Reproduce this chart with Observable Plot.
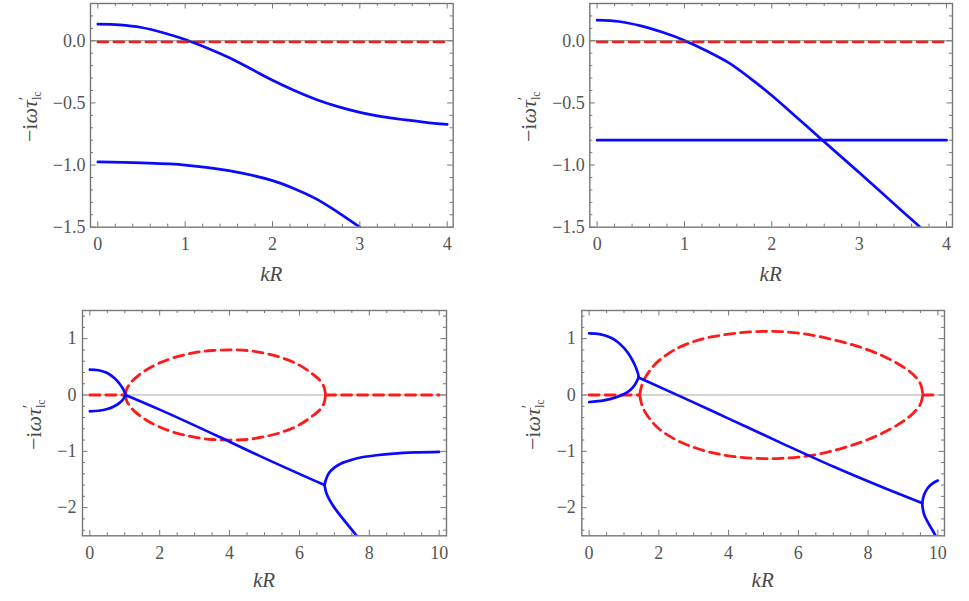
<!DOCTYPE html>
<html>
<head>
<meta charset="utf-8">
<script src="https://cdn.jsdelivr.net/npm/d3@7"></script>
<script src="https://cdn.jsdelivr.net/npm/@observablehq/plot@0.6"></script>
<style>
  html, body { margin: 0; padding: 0; background: #fff; }
  body { width: 969px; height: 601px; position: relative; overflow: hidden; }
  .panel { position: absolute; }
  .lab { position: absolute; font-family: "Liberation Serif", "Times New Roman", serif; color: #4a4a4a;
         white-space: nowrap; line-height: 1; font-size: 21px; }
  .lab i { font-style: italic; }
  .ylab { transform: translate(-50%, -50%) rotate(-90deg); transform-origin: 50% 50%; font-size: 22px; }
  .xlab { transform: translateX(-50%); font-style: italic; }
  .pr { position: relative; top: -0.42em; font-size: 0.72em; }
  .sb { position: relative; top: 0.32em; left: -0.28em; font-size: 0.55em; }
</style>
</head>
<body>
<div id="p1" class="panel" style="left:0px;top:0px"></div>
<div id="p2" class="panel" style="left:480px;top:0px"></div>
<div id="p3" class="panel" style="left:0px;top:300px"></div>
<div id="p4" class="panel" style="left:480px;top:300px"></div>
<script>
// ---------- tick labels ----------
const topXTicks = [0, 1, 2, 3, 4];
const topYTicks = [-1.5, -1.0, -0.5, 0.0];
const botXTicks = [0, 2, 4, 6, 8, 10];
const botYTicks = [-2, -1, 0, 1];
const xTitle = "kR";

// ---------- panel 1 (top left) ----------
const p1BlueUpper = [[0,0.134],[0.25,0.128],[0.5,0.107],[0.75,0.065],[1.0,0.01],[1.25,-0.058],[1.5,-0.135],[1.75,-0.225],[2.0,-0.318],[2.25,-0.40],[2.5,-0.472],[2.75,-0.53],[3.0,-0.576],[3.25,-0.61],[3.5,-0.635],[3.75,-0.656],[4.0,-0.673]];
const p1BlueLower = [[0,-0.975],[0.5,-0.983],[1.0,-1.0],[1.5,-1.045],[2.0,-1.125],[2.25,-1.19],[2.5,-1.272],[2.75,-1.38],[3.0,-1.5]];
const p1Red = [[0,0],[4,0]];

// ---------- panel 2 (top right) ----------
const p2BlueCurve = [[0,0.166],[0.25,0.155],[0.5,0.12],[0.75,0.068],[1.0,0.003],[1.25,-0.08],[1.5,-0.174],[1.75,-0.30],[2.0,-0.44],[2.3,-0.625],[2.58,-0.80],[3.0,-1.06],[3.5,-1.375],[3.7,-1.5]];
const p2BlueFlat = [[0,-0.8],[4,-0.8]];
const p2Red = [[0,0],[4,0]];

// ---------- panel 3 (bottom left) ----------
const p3BlueUpperLeft = [[0,0.45],[0.25,0.44],[0.5,0.39],[0.7,0.30],[0.85,0.20],[0.95,0.11],[1.0,0.04],[1.02,0]];
const p3BlueLowerLeft = [[0,-0.29],[0.25,-0.28],[0.5,-0.25],[0.7,-0.20],[0.85,-0.14],[0.95,-0.08],[1.02,0]];
const p3BlueLine = [[1.02,0],[2.0,-0.26],[4.0,-0.83],[4.89,-1.09],[6.72,-1.6]];
const p3BlueUpperRight = [[6.72,-1.6],[6.76,-1.5],[6.85,-1.38],[7.0,-1.29],[7.18,-1.22],[7.5,-1.15],[7.75,-1.11],[8.2,-1.07],[8.7,-1.04],[9.3,-1.02],[10,-1.01]];
const p3BlueLowerRight = [[6.72,-1.6],[6.76,-1.72],[6.85,-1.85],[7.0,-2.0],[7.3,-2.24],[7.64,-2.5]];
const p3RedLeft = [[0,0],[1.02,0]];
const p3RedRight = [[6.75,0],[10,0]];
const p3RedLoopUpper = [[1.02,0],[1.06,0.11],[1.15,0.2],[1.3,0.3],[1.6,0.44],[2.0,0.57],[2.5,0.68],[3.0,0.75],[3.5,0.79],[4.0,0.80],[4.5,0.79],[5.0,0.74],[5.5,0.66],[6.0,0.53],[6.4,0.36],[6.6,0.25],[6.7,0.15],[6.75,0]];
const p3RedLoopLower = [[1.02,0],[1.06,-0.11],[1.15,-0.2],[1.3,-0.3],[1.6,-0.44],[2.0,-0.57],[2.5,-0.68],[3.0,-0.75],[3.5,-0.79],[4.0,-0.80],[4.5,-0.79],[5.0,-0.74],[5.5,-0.66],[6.0,-0.53],[6.4,-0.36],[6.6,-0.25],[6.7,-0.15],[6.75,0]];

// ---------- panel 4 (bottom right) ----------
const p4BlueUpperLeft = [[0,1.095],[0.3,1.08],[0.61,1.02],[0.8,0.95],[0.99,0.84],[1.12,0.74],[1.23,0.63],[1.32,0.52],[1.38,0.42],[1.41,0.36],[1.42,0.31]];
const p4BlueLowerLeft = [[0,-0.125],[0.42,-0.096],[0.8,-0.036],[1.09,0.046],[1.28,0.154],[1.38,0.26],[1.42,0.31]];
const p4BlueLine = [[1.42,0.31],[2.6,-0.02],[4.0,-0.42],[5.5,-0.85],[7.0,-1.27],[8.5,-1.66],[9.55,-1.92]];
const p4BlueUpperRight = [[9.55,-1.92],[9.6,-1.78],[9.7,-1.66],[9.85,-1.57],[10.0,-1.52]];
const p4BlueLowerRight = [[9.55,-1.92],[9.6,-2.11],[9.75,-2.3],[9.9,-2.46],[9.93,-2.5]];
const p4RedLeft = [[0,0],[1.45,0]];
const p4RedRight = [[9.57,0],[10,0]];
const p4RedLoopUpper = [[1.45,0],[1.5,0.15],[1.6,0.3],[1.8,0.48],[2.0,0.61],[2.5,0.82],[3.0,0.95],[3.5,1.03],[4.0,1.08],[4.5,1.115],[5.0,1.13],[5.5,1.125],[6.0,1.10],[6.5,1.05],[7.0,0.98],[7.5,0.90],[8.0,0.80],[8.5,0.67],[9.0,0.50],[9.3,0.36],[9.5,0.2],[9.57,0]];
const p4RedLoopLower = [[1.45,0],[1.5,-0.15],[1.6,-0.3],[1.8,-0.47],[2.0,-0.6],[2.5,-0.80],[3.0,-0.93],[3.5,-1.02],[4.0,-1.08],[4.5,-1.115],[5.0,-1.13],[5.5,-1.125],[6.0,-1.105],[6.5,-1.06],[7.0,-0.99],[7.5,-0.90],[8.0,-0.79],[8.5,-0.65],[9.0,-0.47],[9.3,-0.32],[9.5,-0.16],[9.57,0]];

// ---------- styles ----------
const BLUE = "#0a0aff";
const RED = "#ff1a1a";
const FRAME = "#777777";
const TEXT = "#555555";
const FONT = "'Liberation Serif', serif";

function blueLine(data, curve = "catmull-rom") {
  return Plot.line(data, {stroke: BLUE, strokeWidth: 2.7, curve, clip: true});
}
function redLine(data, curve = "catmull-rom", dy = 0) {
  return Plot.line(data, {stroke: RED, strokeWidth: 2.8, strokeDasharray: "10,6", curve, clip: true, dy});
}

function makePanel(cfg) {
  const {id, width, height, margin, xDomain, yDomain, xMajor, xMinorStep, yMajor, yMinorStep, xFormat, yFormat,
         zeroColor, zeroWidth, zeroOnTop, series, ylabOffset, kRBaseline, yPad, xPad} = cfg;
  const W = width - margin.left - margin.right;
  const H = height - margin.top - margin.bottom;
  const majorLen = 5.5, minorLen = 3;
  const eps = 1e-9;
  const inX = v => v >= xDomain[0] - eps && v <= xDomain[1] + eps;
  const inY = v => v >= yDomain[0] - eps && v <= yDomain[1] + eps;
  const isMajor = (v, arr) => arr.some(m => Math.abs(m - v) < 1e-6);
  const xMinor = d3.range(Math.ceil(xDomain[0] / xMinorStep - eps), Math.floor(xDomain[1] / xMinorStep + eps) + 1)
    .map(i => +(i * xMinorStep).toFixed(6)).filter(v => v >= 0 && inX(v) && !isMajor(v, xMajor));
  const yMinor = d3.range(Math.ceil(yDomain[0] / yMinorStep - eps), Math.floor(yDomain[1] / yMinorStep + eps) + 1)
    .map(i => +(i * yMinorStep).toFixed(6)).filter(v => inY(v) && !isMajor(v, yMajor));
  const tick = {stroke: FRAME, strokeWidth: 1};
  const zero = Plot.ruleY([0], {stroke: zeroColor, strokeWidth: zeroWidth});
  const marks = [];
  if (!zeroOnTop) marks.push(zero);
  marks.push(...series);
  if (zeroOnTop) marks.push(zero);
  marks.push(
    Plot.tickX(xMajor.filter(inX), {...tick, insetTop: H - majorLen}),
    Plot.tickX(xMajor.filter(inX), {...tick, insetBottom: H - majorLen}),
    Plot.tickX(xMinor, {...tick, insetTop: H - minorLen}),
    Plot.tickX(xMinor, {...tick, insetBottom: H - minorLen}),
    Plot.tickY(yMajor.filter(inY), {...tick, insetRight: W - majorLen}),
    Plot.tickY(yMajor.filter(inY), {...tick, insetLeft: W - majorLen}),
    Plot.tickY(yMinor, {...tick, insetRight: W - minorLen}),
    Plot.tickY(yMinor, {...tick, insetLeft: W - minorLen}),
    Plot.frame({stroke: FRAME, strokeWidth: 1.4}),
    Plot.axisX(xMajor, {anchor: "bottom", tickSize: 0, tickPadding: xPad, tickFormat: xFormat, label: null, fill: TEXT, fontSize: 18, fontFamily: FONT}),
    Plot.axisY(yMajor, {anchor: "left", tickSize: 0, tickPadding: yPad, tickFormat: yFormat, label: null, fill: TEXT, fontSize: 18, fontFamily: FONT})
  );
  const svg = Plot.plot({
    width, height,
    marginTop: margin.top, marginBottom: margin.bottom, marginLeft: margin.left, marginRight: margin.right,
    x: {domain: xDomain},
    y: {domain: yDomain},
    style: {background: "white", overflow: "visible", fontFamily: FONT, fontSize: "18px"},
    marks
  });
  const host = document.getElementById(id);
  host.appendChild(svg);
  // axis titles as HTML text (serif), placed relative to the plot frame
  const cx = margin.left + W / 2;
  const cy = margin.top + H / 2;
  const xl = document.createElement("div");
  xl.className = "lab xlab";
  xl.style.left = cx + "px";
  xl.style.top = (kRBaseline - 17.6) + "px";
  xl.textContent = xTitle;
  host.appendChild(xl);
  const yl = document.createElement("div");
  yl.className = "lab ylab";
  yl.style.left = (margin.left - ylabOffset - 7.4) + "px";
  yl.style.top = cy + "px";
  yl.innerHTML = '−i<i>ωτ</i><span class="pr">′</span><span class="sb">lc</span>';
  host.appendChild(yl);
}

const fmtTopY = d3.format(".1f");
const fmtInt = d3.format("d");

makePanel({
  id: "p1", width: 480, height: 300,
  margin: {top: 3, bottom: 73.3, left: 90, right: 27.3},
  xDomain: [-0.084, 4.069], yDomain: [-1.5, 0.3],
  xMajor: topXTicks, xMinorStep: 0.2, yMajor: topYTicks, yMinorStep: 0.1,
  xFormat: fmtInt, yFormat: fmtTopY,
  zeroColor: "#666", zeroWidth: 0.8, zeroOnTop: true, ylabOffset: 53, kRBaseline: 282, xPad: 10, yPad: 5,
  series: [redLine(p1Red, "linear", 1), blueLine(p1BlueUpper), blueLine(p1BlueLower)]
});

makePanel({
  id: "p2", width: 489, height: 300,
  margin: {top: 3, bottom: 73.3, left: 109.3, right: 17},
  xDomain: [-0.084, 4.069], yDomain: [-1.5, 0.3],
  xMajor: topXTicks, xMinorStep: 0.2, yMajor: topYTicks, yMinorStep: 0.1,
  xFormat: fmtInt, yFormat: fmtTopY,
  zeroColor: "#666", zeroWidth: 0.8, zeroOnTop: true, ylabOffset: 53, kRBaseline: 282, xPad: 10, yPad: 5,
  series: [redLine(p2Red, "linear", 1), blueLine(p2BlueFlat, "linear"), blueLine(p2BlueCurve)]
});

makePanel({
  id: "p3", width: 480, height: 301,
  margin: {top: 10, bottom: 65.7, left: 82, right: 34},
  xDomain: [-0.21, 10.21], yDomain: [-2.5, 1.5],
  xMajor: botXTicks, xMinorStep: 0.5, yMajor: botYTicks, yMinorStep: 0.2,
  xFormat: fmtInt, yFormat: fmtInt,
  zeroColor: "#aaa", zeroWidth: 1, zeroOnTop: false, ylabOffset: 41, kRBaseline: 288, xPad: 10, yPad: 6,
  series: [
    redLine(p3RedLeft, "linear"), redLine(p3RedRight, "linear"),
    redLine(p3RedLoopUpper), redLine(p3RedLoopLower),
    blueLine(p3BlueUpperLeft), blueLine(p3BlueLowerLeft), blueLine(p3BlueLine, "monotone-x"),
    blueLine(p3BlueUpperRight), blueLine(p3BlueLowerRight)
  ]
});

makePanel({
  id: "p4", width: 489, height: 301,
  margin: {top: 10, bottom: 65.7, left: 101.3, right: 25},
  xDomain: [-0.21, 10.19], yDomain: [-2.5, 1.5],
  xMajor: botXTicks, xMinorStep: 0.5, yMajor: botYTicks, yMinorStep: 0.2,
  xFormat: fmtInt, yFormat: fmtInt,
  zeroColor: "#aaa", zeroWidth: 1, zeroOnTop: false, ylabOffset: 41, kRBaseline: 288, xPad: 10, yPad: 6,
  series: [
    redLine(p4RedLeft, "linear"), redLine(p4RedRight, "linear"),
    redLine(p4RedLoopUpper), redLine(p4RedLoopLower),
    blueLine(p4BlueUpperLeft), blueLine(p4BlueLowerLeft), blueLine(p4BlueLine, "monotone-x"),
    blueLine(p4BlueUpperRight), blueLine(p4BlueLowerRight)
  ]
});
</script>
</body>
</html>
